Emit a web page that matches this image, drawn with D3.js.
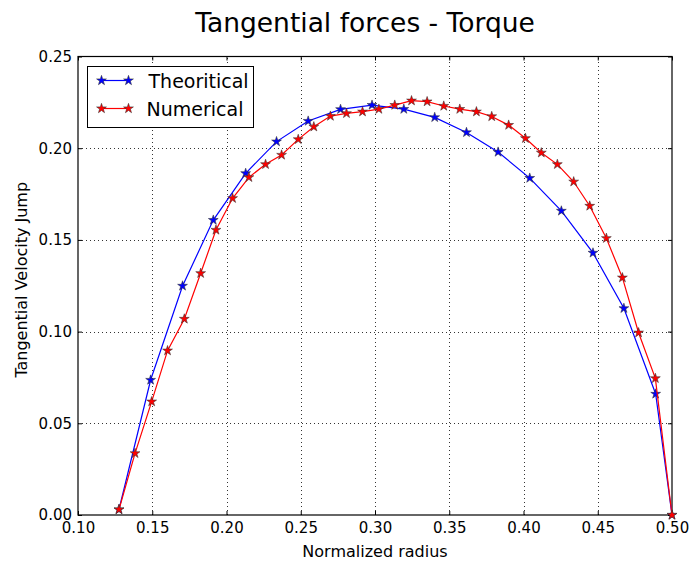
<!DOCTYPE html>
<html lang="en">
<head>
    <meta charset="UTF-8">
    <title>Tangential forces - Torque</title>
    <script src="https://cdn.jsdelivr.net/npm/d3@7"></script>
    <style>
        body { margin: 0; background: #fff; }
        text { font-family: "DejaVu Sans", sans-serif; }
    </style>
</head>
<body>
    <div id="chart"></div>
    <script>
// theoretical curve (blue)
const theoRadius = [0.1276, 0.1489, 0.1704, 0.1911, 0.2129, 0.2337, 0.2550, 0.2768, 0.2980, 0.3194,
    0.3402, 0.3616, 0.3829, 0.4042, 0.4255, 0.4468, 0.4676, 0.4890, 0.5000];
const theoJump = [0.0030, 0.0736, 0.1249, 0.1608, 0.1863, 0.2036, 0.2148, 0.2212, 0.2235, 0.2213,
    0.2168, 0.2086, 0.1979, 0.1837, 0.1658, 0.1429, 0.1127, 0.0660, 0.0000];

// numerical curve (red)
const numRadius = [0.1276, 0.1384, 0.1496, 0.1603, 0.1716, 0.1826, 0.1929, 0.2041, 0.2151, 0.2263,
    0.2371, 0.2483, 0.2588, 0.2700, 0.2808, 0.2916, 0.3026, 0.3133, 0.3246, 0.3351,
    0.3463, 0.3571, 0.3683, 0.3786, 0.3900, 0.4013, 0.4120, 0.4228, 0.4338, 0.4446,
    0.4558, 0.4666, 0.4775, 0.4888, 0.5000];
const numJump = [0.0030, 0.0336, 0.0618, 0.0896, 0.1069, 0.1318, 0.1554, 0.1727, 0.1841, 0.1912,
    0.1963, 0.2048, 0.2117, 0.2175, 0.2190, 0.2199, 0.2213, 0.2235, 0.2259, 0.2254,
    0.2230, 0.2213, 0.2199, 0.2173, 0.2126, 0.2054, 0.1975, 0.1912, 0.1817, 0.1685,
    0.1509, 0.1294, 0.0994, 0.0745, 0.0000];

const xTicks = [0.10, 0.15, 0.20, 0.25, 0.30, 0.35, 0.40, 0.45, 0.50];
const yTicks = [0.00, 0.05, 0.10, 0.15, 0.20, 0.25];

const width = 691, height = 565;
const margin = { top: 56.5, right: 19, bottom: 50, left: 78 };

const svg = d3.select("#chart").append("svg")
    .attr("width", width)
    .attr("height", height);

const x = d3.scaleLinear().domain([0.10, 0.50]).range([margin.left, width - margin.right]);
const y = d3.scaleLinear().domain([0, 0.25]).range([height - margin.bottom, margin.top]);

const x0 = x.range()[0], x1 = x.range()[1];
const y0 = y.range()[0], y1 = y.range()[1];

// grid (dotted)
svg.append("g").selectAll("line")
    .data(xTicks.slice(1, -1))
    .enter().append("line")
    .attr("x1", d => Math.round(x(d)) + 0.5).attr("x2", d => Math.round(x(d)) + 0.5)
    .attr("y1", y0).attr("y2", y1)
    .attr("stroke", "#000").attr("stroke-width", 0.8)
    .attr("stroke-dasharray", "1,3");
svg.append("g").selectAll("line")
    .data(yTicks.slice(1, -1))
    .enter().append("line")
    .attr("y1", d => Math.round(y(d)) + 0.5).attr("y2", d => Math.round(y(d)) + 0.5)
    .attr("x1", x0).attr("x2", x1)
    .attr("stroke", "#000").attr("stroke-width", 0.8)
    .attr("stroke-dasharray", "1,3");

// axes, ticks pointing inward on all four sides
const fmt = d3.format(".2f");
const bottomAxis = svg.append("g")
    .attr("transform", `translate(0,${y0})`)
    .call(d3.axisBottom(x).tickValues(xTicks).tickFormat(fmt).tickSize(-4).tickPadding(7));
const topAxis = svg.append("g")
    .attr("transform", `translate(0,${y1})`)
    .call(d3.axisTop(x).tickValues(xTicks).tickFormat("").tickSize(-4));
const leftAxis = svg.append("g")
    .attr("transform", `translate(${x0},0)`)
    .call(d3.axisLeft(y).tickValues(yTicks).tickFormat(fmt).tickSize(-4).tickPadding(6));
const rightAxis = svg.append("g")
    .attr("transform", `translate(${x1},0)`)
    .call(d3.axisRight(y).tickValues(yTicks).tickFormat("").tickSize(-4));

[bottomAxis, topAxis, leftAxis, rightAxis].forEach(g => {
    g.select(".domain").remove();
    g.selectAll("line").attr("stroke", "#000");
    g.selectAll("text")
        .style("font-family", "'DejaVu Sans', sans-serif")
        .style("font-size", "15px")
        .attr("fill", "#000");
});

// frame
svg.append("rect")
    .attr("x", x0).attr("y", y1)
    .attr("width", x1 - x0).attr("height", y0 - y1)
    .attr("fill", "none").attr("stroke", "#000").attr("stroke-width", 1.2);

// curves
const series = [
    { name: "Theoritical", radius: theoRadius, jump: theoJump, color: "#0000ff" },
    { name: "Numerical", radius: numRadius, jump: numJump, color: "#ff0000" }
];

const line = d3.line().x(d => x(d[0])).y(d => y(d[1]));
const star = d3.symbol().type(d3.symbolStar).size(30);

series.forEach(s => {
    const pts = s.radius.map((r, i) => [r, s.jump[i]]);
    svg.append("path")
        .datum(pts)
        .attr("d", line)
        .attr("fill", "none")
        .attr("stroke", s.color)
        .attr("stroke-width", 1.2);
    svg.append("g").selectAll("path")
        .data(pts)
        .enter().append("path")
        .attr("d", star)
        .attr("transform", d => `translate(${x(d[0])},${y(d[1])})`)
        .attr("fill", s.color)
        .attr("stroke", "#333")
        .attr("stroke-opacity", 0.7)
        .attr("stroke-width", 0.8);
});

// legend
const legend = svg.append("g").attr("transform", "translate(87.5,66.5)");
legend.append("rect")
    .attr("width", 166).attr("height", 61)
    .attr("fill", "#fff").attr("stroke", "#000").attr("stroke-width", 1);
series.forEach((s, i) => {
    const ly = 14 + i * 28;
    legend.append("line")
        .attr("x1", 14).attr("x2", 41)
        .attr("y1", ly).attr("y2", ly)
        .attr("stroke", s.color).attr("stroke-width", 1.2);
    [14, 41].forEach(lx => {
        legend.append("path")
            .attr("d", star)
            .attr("transform", `translate(${lx},${ly})`)
            .attr("fill", s.color)
            .attr("stroke", "#333")
            .attr("stroke-opacity", 0.7)
            .attr("stroke-width", 0.8);
    });
    legend.append("text")
        .attr("x", i === 0 ? 61 : 59)
        .attr("y", ly + 7)
        .style("font-size", "19px")
        .text(s.name);
});

// title and axis labels
svg.append("text")
    .attr("x", 365).attr("y", 32)
    .attr("text-anchor", "middle")
    .style("font-size", "26.5px")
    .text("Tangential forces - Torque");

svg.append("text")
    .attr("x", (x0 + x1) / 2).attr("y", 557)
    .attr("text-anchor", "middle")
    .style("font-size", "16px")
    .text("Normalized radius");

svg.append("text")
    .attr("transform", "rotate(-90)")
    .attr("x", -(y0 + y1) / 2 + 6).attr("y", 27)
    .attr("text-anchor", "middle")
    .style("font-size", "16px")
    .text("Tangential Velocity Jump");
    </script>
</body>
</html>
